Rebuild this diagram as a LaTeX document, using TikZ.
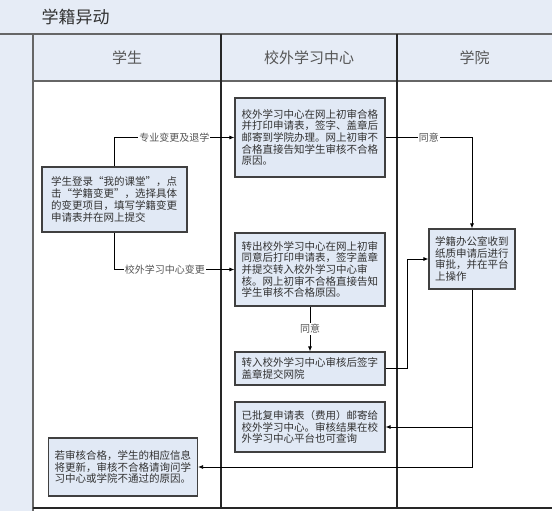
\documentclass[tikz,border=0pt]{standalone}
\usepackage{fontspec}
\setmainfont{Noto Sans CJK SC}
\usetikzlibrary{arrows.meta}
\definecolor{bandfill}{RGB}{230,236,246}
\definecolor{boxfill}{RGB}{225,233,245}
\definecolor{boxline}{RGB}{64,64,64}
\definecolor{txt}{RGB}{50,50,50}
\definecolor{hdrtxt}{RGB}{85,85,85}
\begin{document}
\begin{tikzpicture}[x=1pt,y=-1pt,
 box/.style={draw=boxline, line width=1.2pt, fill=boxfill, text=txt, align=left,
   font=\fontsize{10.5}{11.7}\selectfont, inner ysep=0pt, inner xsep=6.5pt},
 lbl/.style={fill=white, text=hdrtxt, font=\fontsize{10}{12}\selectfont, inner sep=1pt},
 conn/.style={draw=black, line width=0.8pt, -{Latex[length=5pt,width=4pt]}},
 lane/.style={draw=black!85, line width=1.2pt},
 band/.style={draw=black!60, line width=1.8pt},
 hdr/.style={text=hdrtxt, font=\fontsize{15}{18}\selectfont}
]
\useasboundingbox (0,0) rectangle (552,511);
\fill[white] (0,0) rectangle (552,511);
\fill[bandfill] (0,0) rectangle (552,34);
\fill[bandfill] (0,34) rectangle (33,511);
\fill[bandfill] (33,34) rectangle (552,81);
\draw[band] (0,34) -- (552,34);
\draw[band] (33,34) -- (33,511);
\draw[band] (33,81) -- (552,81);
\draw[lane] (221,34) -- (221,508);
\draw[lane] (397,34) -- (397,508);
\draw[lane] (33,508) -- (552,508);

\node[anchor=west, text=txt, font=\fontsize{17}{20}\selectfont] (title) at (38,17) {学籍异动};
\node[hdr] (h1) at (127,57.5) {学生};
\node[hdr] (h2) at (309,57.5) {校外学习中心};
\node[hdr] (h3) at (474.5,57.5) {学院};

\node[box, text width=127pt, inner xsep=9pt, minimum height=65pt] (A) at (114.5,199.5)
  {学生登录“我的课堂”，点\\击“学籍变更”，选择具体\\的变更项目，填写学籍变更\\申请表并在网上提交};
\node[box, text width=137pt, minimum height=79pt] (B) at (310,137.5)
  {校外学习中心在网上初审合格\\并打印申请表，签字、盖章后\\邮寄到学院办理。网上初审不\\合格直接告知学生审核不合格\\原因。};
\node[box, text width=137pt, minimum height=73pt] (C) at (310,269.5)
  {转出校外学习中心在网上初审\\同意后打印申请表，签字盖章\\并提交转入校外学习中心审\\核。网上初审不合格直接告知\\学生审核不合格原因。};
\node[box, text width=137pt, minimum height=33pt] (D) at (310,368.5)
  {转入校外学习中心审核后签字\\盖章提交网院};
\node[box, text width=74pt, inner xsep=6pt, minimum height=60pt] (E) at (472,259)
  {学籍办公室收到\\纸质申请后进行\\审批，并在平台\\上操作};
\node[box, text width=137pt, minimum height=50pt] (F) at (310,427)
  {已批复申请表（费用）邮寄给\\校外学习中心。审核结果在校\\外学习中心平台也可查询};
\node[box, text width=137pt, inner xsep=6pt, minimum height=58pt] (G) at (123,467)
  {若审核合格，学生的相应信息\\将更新，审核不合格请询问学\\习中心或学院不通过的原因。};

\draw[conn] (A.north) |- node[lbl, pos=0.75] {专业变更及退学} (B.west);
\draw[conn] (A.south) |- node[lbl, pos=0.71] {校外学习中心变更} (C.west);
\draw[conn] (B.east) -| node[lbl, pos=0.25] {同意} (E.north);
\draw[conn] (C.south) -- node[lbl] {同意} (D.north);
\draw[conn] (D.east) -- ++(22,0) |- (E.west);
\draw[conn] (E.south) |- (F.east);
\draw[conn] (E.south) |- (G.east);
\end{tikzpicture}
\end{document}
